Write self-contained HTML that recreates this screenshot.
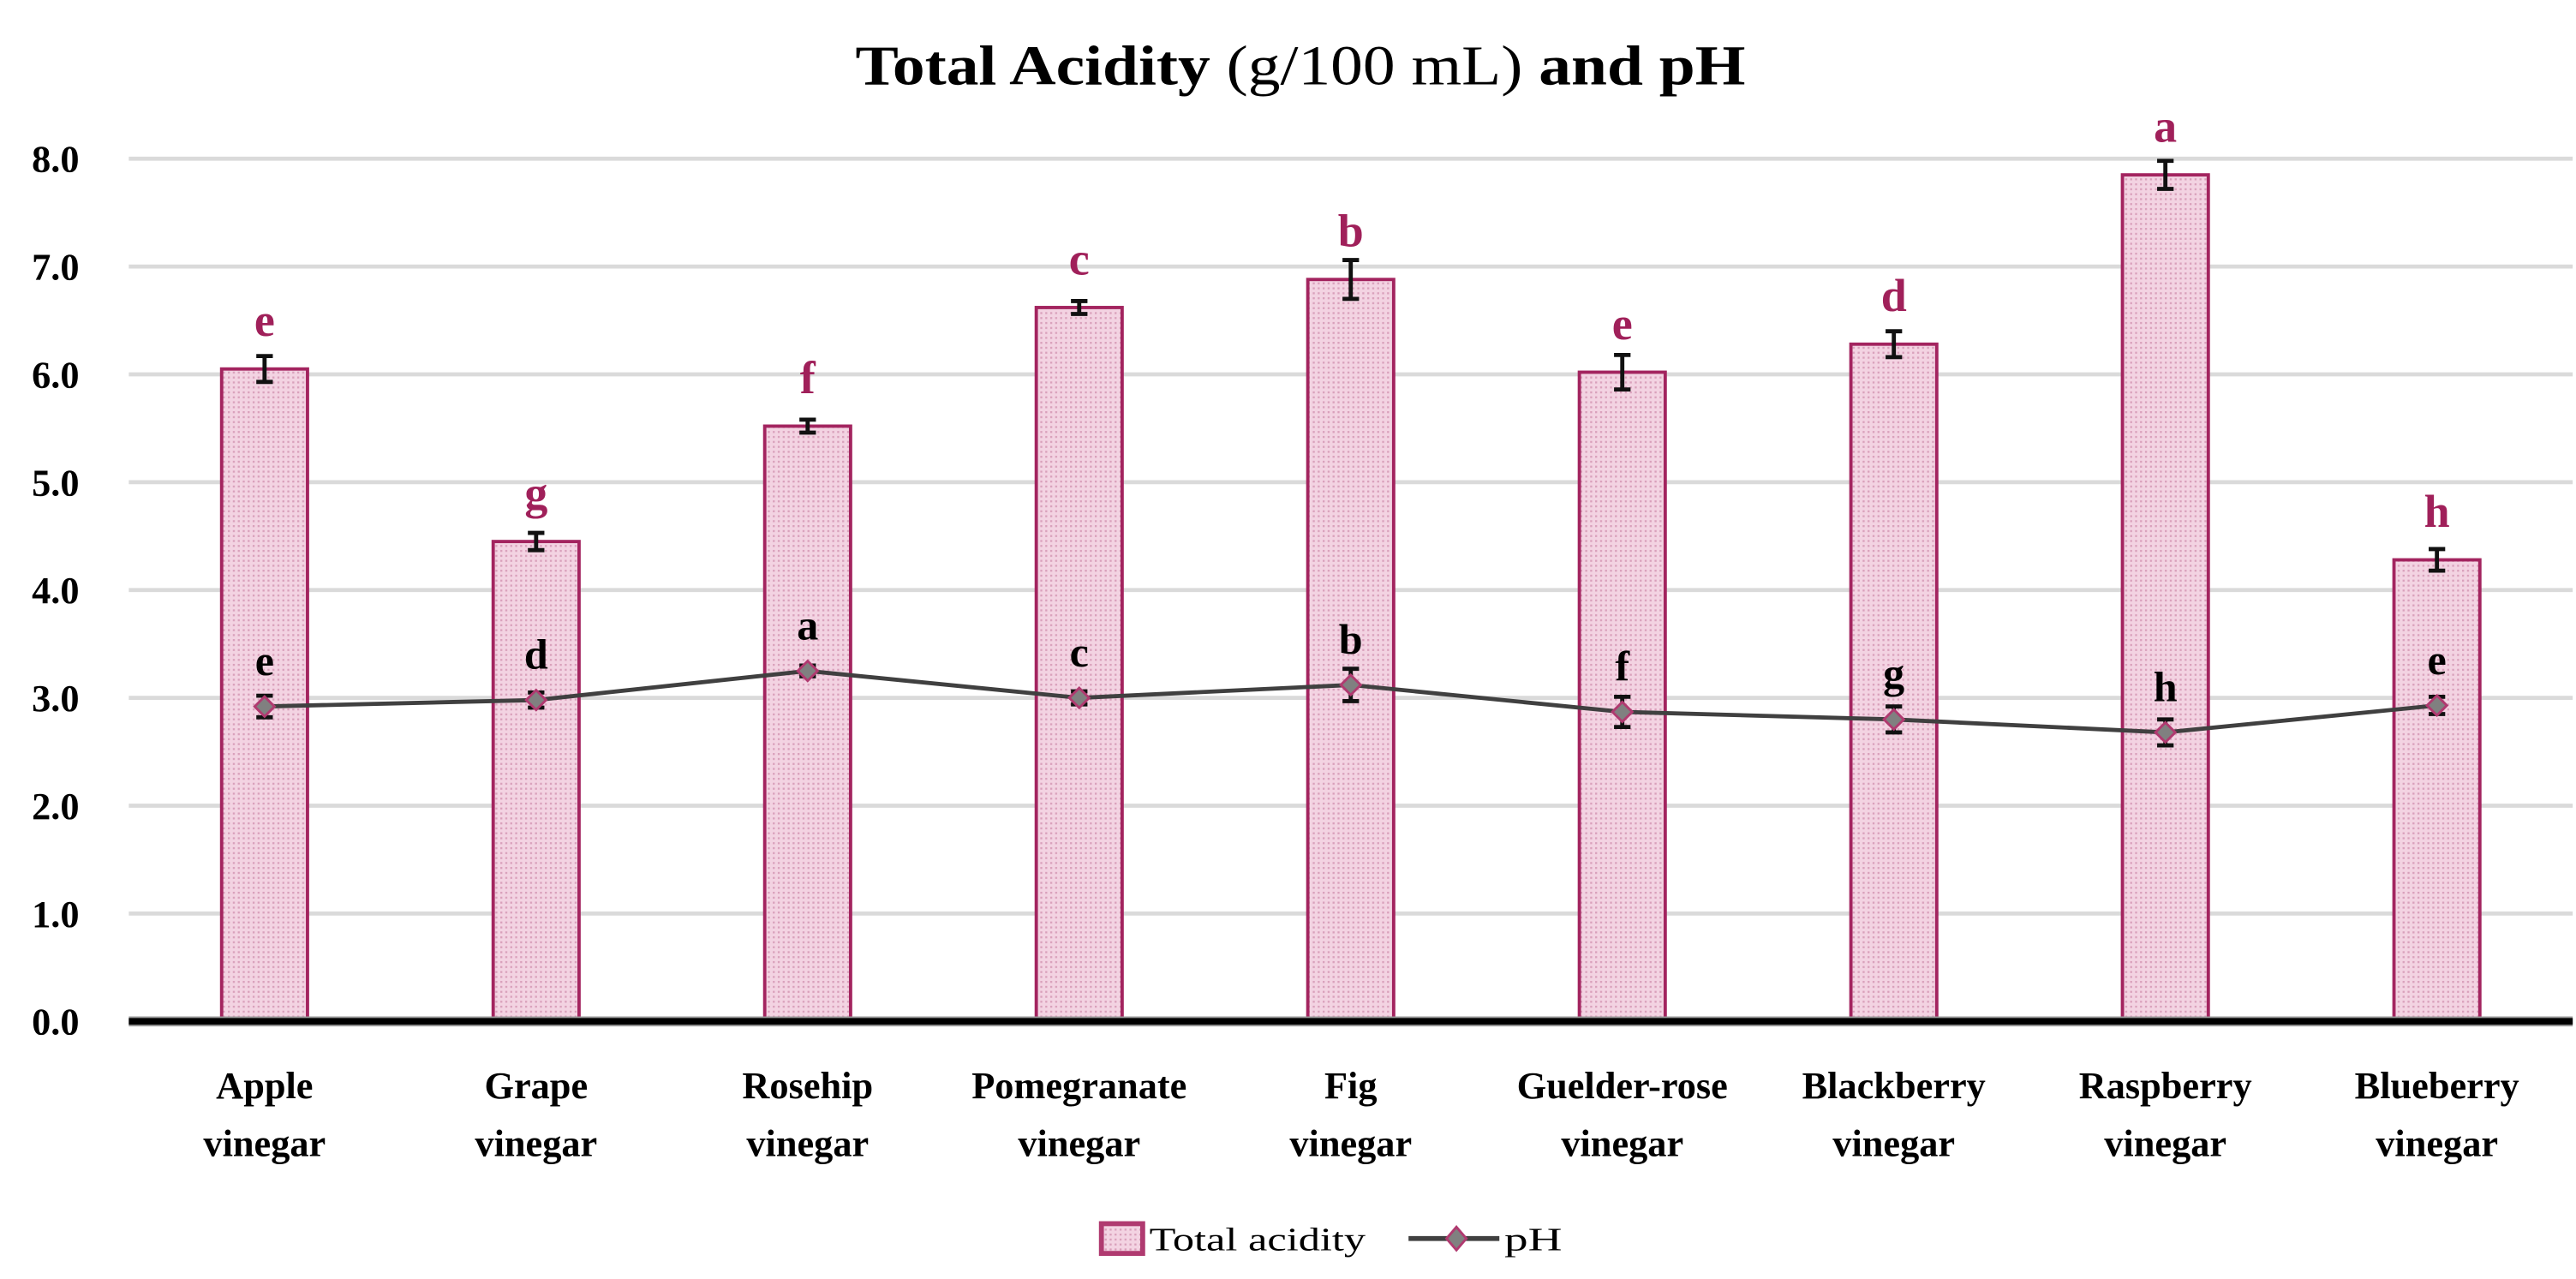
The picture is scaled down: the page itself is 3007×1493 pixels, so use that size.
<!DOCTYPE html>
<html><head><meta charset="utf-8"><style>
html,body{margin:0;padding:0;background:#fff}
svg{display:block}
text{font-family:"Liberation Serif",serif}
</style></head><body>
<svg id="chart" width="3007" height="1493" viewBox="0 0 1560 774.5" preserveAspectRatio="none" xmlns="http://www.w3.org/2000/svg">
<defs>
<pattern id="dots" width="3" height="3" patternUnits="userSpaceOnUse">
<rect width="3" height="3" fill="#f3d3e2"/>
<rect width="1.2" height="1.2" fill="#d9a0bb"/>
</pattern>
</defs>
<text x="518" y="51" font-size="34" textLength="539" lengthAdjust="spacingAndGlyphs"><tspan font-weight="bold">Total Acidity</tspan> (g/100 mL) <tspan font-weight="bold">and pH</tspan></text>
<g id="grid"></g>
<g id="bars"></g>
<g id="line"></g>
<g id="labels"></g>
<g>
<rect x="667" y="741" width="25" height="18" fill="url(#dots)" stroke="#b03a70" stroke-width="3"/>
<text x="696" y="757" font-size="20" textLength="131" lengthAdjust="spacingAndGlyphs">Total acidity</text>
<line x1="853" y1="750" x2="908" y2="750" stroke="#404040" stroke-width="3"/>
<path d="M882 743 L888 750 L882 757 L876 750 Z" fill="#808080" stroke="#b03a70" stroke-width="1.5"/>
<text x="911" y="757" font-size="20" textLength="35" lengthAdjust="spacingAndGlyphs">pH</text>
</g>
</svg>
<script>
const categories = ["Apple","Grape","Rosehip","Pomegranate","Fig","Guelder-rose","Blackberry","Raspberry","Blueberry"];
const acidity = [6.05,4.45,5.52,6.62,6.88,6.02,6.28,7.85,4.28];
const acidityErr = [0.12,0.08,0.06,0.06,0.18,0.16,0.12,0.13,0.10];
const acidityLetters = ["e","g","f","c","b","e","d","a","h"];
const ph = [2.92,2.98,3.25,3.0,3.12,2.87,2.8,2.68,2.93];
const phErr = [0.1,0.07,0.05,0.06,0.15,0.14,0.12,0.12,0.08];
const phLetters = ["e","d","a","c","b","f","g","h","e"];
const yTicks = [0,1,2,3,4,5,6,7,8];

const NS="http://www.w3.org/2000/svg";
const plotL=78, plotR=1558, y0=618.5, unit=65.3;
const band=(plotR-plotL)/categories.length;
function xScale(i){return plotL+band*(i+0.5);}
function yScale(v){return y0-v*unit;}
function mk(tag,attrs,parent){const e=document.createElementNS(NS,tag);for(const k in attrs)e.setAttribute(k,attrs[k]);parent.appendChild(e);return e;}
const grid=document.getElementById('grid'),bars=document.getElementById('bars'),line=document.getElementById('line'),labels=document.getElementById('labels');

yTicks.forEach(t=>{
  const y=yScale(t);
  if(t>0){const g=mk('line',{x1:plotL,x2:plotR,y1:y,y2:y,stroke:'#dadada','stroke-width':2.5},grid);
  
  }
  const tx=mk('text',{x:48,y:y+8,'font-size':23,'font-weight':'bold','text-anchor':'end'},grid);
  tx.textContent=t.toFixed(1);
  
  
});

const bw=52;
categories.forEach((c,i)=>{
  const x=xScale(i), y=yScale(acidity[i]);
  const r=mk('rect',{x:x-bw/2,y:y,width:bw,height:y0-y,fill:'url(#dots)',stroke:'#a3245f','stroke-width':2},bars);
  
  
  const e1=yScale(acidity[i]+acidityErr[i]), e2=yScale(acidity[i]-acidityErr[i]);
  const eb=mk('path',{d:`M${x} ${e1}V${e2}M${x-5} ${e1}H${x+5}M${x-5} ${e2}H${x+5}`,stroke:'#111','stroke-width':2.5,fill:'none'},bars);
  
  
  const lt=mk('text',{x:x,y:y-20,'font-size':28,'font-weight':'bold',fill:'#a0205a','text-anchor':'middle'},labels);
  lt.textContent=acidityLetters[i];
  
  
  const l1=mk('text',{x:x,y:665,'font-size':23,'font-weight':'bold','text-anchor':'middle'},labels);
  l1.textContent=c;
  
  
  const l2=mk('text',{x:x,y:700,'font-size':23,'font-weight':'bold','text-anchor':'middle'},labels);
  l2.textContent='vinegar';
  
  
});

const axg=mk('line',{x1:plotL,x2:plotR,y1:y0,y2:y0,stroke:'#999','stroke-width':6},bars);


const ax=mk('line',{x1:plotL,x2:plotR,y1:y0,y2:y0,stroke:'#000','stroke-width':4},bars);



const pts=ph.map((v,i)=>xScale(i)+','+yScale(v)).join(' ');
const pl=mk('polyline',{points:pts,fill:'none',stroke:'#404040','stroke-width':2.5},line);


ph.forEach((v,i)=>{
  const x=xScale(i), y=yScale(v);
  const e1=yScale(v+phErr[i]), e2=yScale(v-phErr[i]);
  const eb=mk('path',{d:`M${x} ${e1}V${e2}M${x-5} ${e1}H${x+5}M${x-5} ${e2}H${x+5}`,stroke:'#111','stroke-width':2.5,fill:'none'},line);
  
  
  const m=mk('path',{d:`M${x} ${y-6}L${x+6} ${y}L${x} ${y+6}L${x-6} ${y}Z`,fill:'#808080',stroke:'#b03a70','stroke-width':1.5},line);
  
  
  const t=mk('text',{x:x,y:y-19,'font-size':26,'font-weight':'bold',fill:'#000','text-anchor':'middle'},labels);
  t.textContent=phLetters[i];
  
  
});
</script>
</body></html>
